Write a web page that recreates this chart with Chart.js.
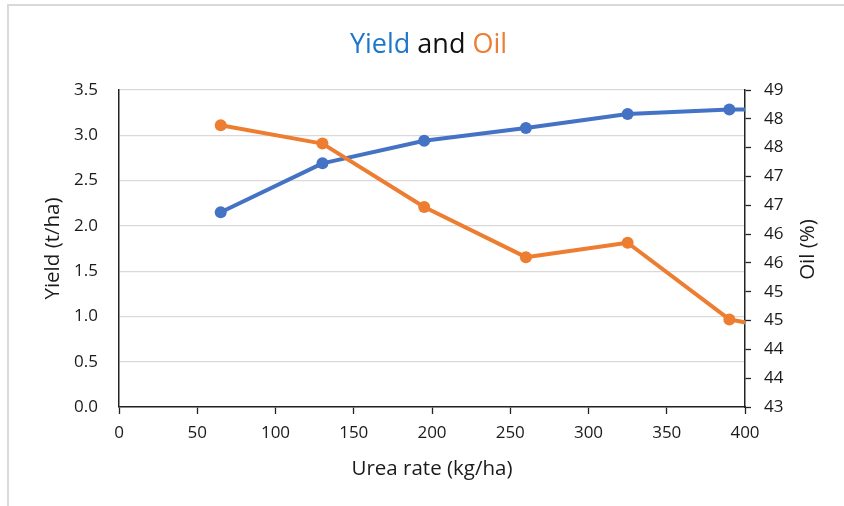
<!DOCTYPE html>
<html>
<head>
<meta charset="utf-8">
<script src="https://cdn.jsdelivr.net/npm/chart.js@4/dist/chart.umd.min.js"></script>
<style>
  html, body { margin: 0; padding: 0; background: #fff; overflow: hidden; }
  #wrap { position: relative; width: 844px; height: 506px; overflow: hidden; }
  #frame { position: absolute; left: 7px; top: 4px; width: 900px; height: 600px;
           border-left: 2px solid #d9d9d9; border-top: 2px solid #d9d9d9; }
  canvas { position: absolute; left: 0; top: 0; }
</style>
</head>
<body>
<div id="wrap">
  <div id="frame"></div>
  <canvas id="chart" width="844" height="506"></canvas>
</div>
<script>
// Urea application rate (kg/ha) and measured responses
const ureaRate = [65, 130, 195, 260, 325, 390, 455];
const yieldT   = [2.15, 2.69, 2.94, 3.08, 3.235, 3.285, 3.28];
const oilPct   = [47.89, 47.57, 46.47, 45.60, 45.85, 44.52, 44.18];

// Title pieces and axis titles
const titleParts = [
  { text: 'Yield', color: '#1f77c9' },
  { text: ' and ', color: '#111111' },
  { text: 'Oil',   color: '#ed7d31' }
];
const xTitle = 'Urea rate (kg/ha)';
const yTitle = 'Yield (t/ha)';
const y2Title = 'Oil (%)';

const FONT = '"Open Sans", Lato, sans-serif';
const TXT = '#1a1a1a';
const AXIS_TITLE_SIZE = 20.5;

const toPoints = (xs, ys) => xs.map((x, i) => ({ x, y: ys[i] }));

// Multi-coloured chart title and the right-hand axis title (read bottom-to-top)
const extraText = {
  id: 'extraText',
  afterDraw(chart) {
    const ctx = chart.ctx;
    ctx.save();
    ctx.font = '27px ' + FONT;
    ctx.textBaseline = 'alphabetic';
    ctx.textAlign = 'left';
    const total = titleParts.reduce((w, p) => w + ctx.measureText(p.text).width, 0);
    let x = 428.5 - total / 2;
    for (const p of titleParts) {
      ctx.fillStyle = p.color;
      ctx.fillText(p.text, x, 53);
      x += ctx.measureText(p.text).width;
    }
    const r = chart.scales.y1;
    ctx.translate(808, (r.top + r.bottom) / 2 + 1);
    ctx.rotate(-Math.PI / 2);
    ctx.font = AXIS_TITLE_SIZE + 'px ' + FONT;
    ctx.fillStyle = TXT;
    ctx.textAlign = 'center';
    ctx.textBaseline = 'middle';
    ctx.fillText(y2Title, 0, 0);
    ctx.restore();
  }
};

new Chart(document.getElementById('chart'), {
  type: 'line',
  data: {
    datasets: [
      {
        label: 'Yield',
        data: toPoints(ureaRate, yieldT),
        yAxisID: 'y',
        borderColor: '#4472c4',
        backgroundColor: '#4472c4',
        borderWidth: 4,
        pointRadius: 6,
        pointBorderWidth: 0,
        pointBackgroundColor: '#4472c4',
        borderCapStyle: 'round',
        borderJoinStyle: 'round',
        tension: 0,
        order: 1,
        clip: { left: 10, top: 10, right: 0, bottom: 10 }
      },
      {
        label: 'Oil',
        data: toPoints(ureaRate, oilPct),
        yAxisID: 'y1',
        borderColor: '#ed7d31',
        backgroundColor: '#ed7d31',
        borderWidth: 4,
        pointRadius: 6,
        pointBorderWidth: 0,
        pointBackgroundColor: '#ed7d31',
        borderCapStyle: 'round',
        borderJoinStyle: 'round',
        tension: 0,
        order: 0,
        clip: { left: 10, top: 10, right: 0, bottom: 10 }
      }
    ]
  },
  options: {
    responsive: false,
    animation: false,
    layout: { padding: { top: 90, left: 0, right: 0, bottom: 0 } },
    plugins: { legend: { display: false }, tooltip: { enabled: false }, title: { display: false } },
    scales: {
      x: {
        type: 'linear',
        min: 0, max: 400,
        ticks: { stepSize: 50, color: TXT, font: { family: FONT, size: 17 }, padding: 9, maxRotation: 0 },
        grid: { drawOnChartArea: false, drawTicks: true, tickLength: 7, tickColor: '#222', tickWidth: 1.3 },
        border: { color: '#222', width: 1.5 },
        title: { display: true, text: xTitle, color: TXT,
                 font: { family: FONT, size: AXIS_TITLE_SIZE, lineHeight: 1.2 },
                 padding: { top: 0, bottom: 24.5 } },
        afterFit(s) { s.height = 99; }
      },
      y: {
        position: 'left',
        min: 0, max: 3.5,
        ticks: { stepSize: 0.5, color: TXT, font: { family: FONT, size: 17 }, padding: 21,
                 callback: v => Number(v).toFixed(1) },
        grid: { color: '#d9d9d9', lineWidth: 1.2, drawTicks: false },
        border: { color: '#222', width: 1.5 },
        title: { display: true, text: yTitle, color: TXT,
                 font: { family: FONT, size: AXIS_TITLE_SIZE, lineHeight: 1.2 },
                 padding: { top: 40.5, bottom: 0 } },
        afterFit(s) { s.width = 119; }
      },
      y1: {
        position: 'right',
        min: 43, max: 48.5,
        ticks: { stepSize: 0.5, color: TXT, font: { family: FONT, size: 17 }, padding: 13,
                 callback: v => String(Math.round(v)) },
        grid: { drawOnChartArea: false, drawTicks: true, tickLength: 6, tickColor: '#222', tickWidth: 1.3 },
        border: { color: '#222', width: 1.5 },
        afterFit(s) { s.width = 99; }
      }
    }
  },
  plugins: [extraText]
});
</script>
</body>
</html>
